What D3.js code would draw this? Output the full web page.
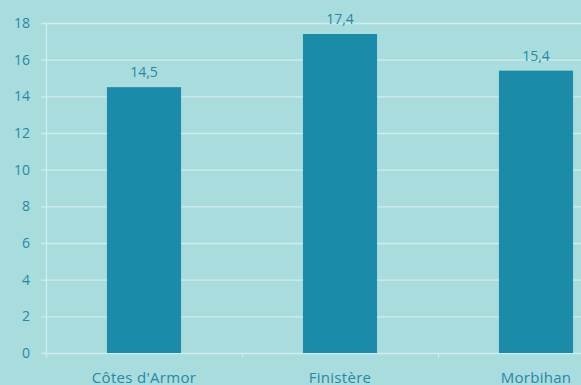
<!DOCTYPE html>
<html><head><meta charset="utf-8">
<script src="https://cdn.jsdelivr.net/npm/d3@7"></script>
<style>
html,body{margin:0;padding:0;background:#a9dcdd;overflow:hidden}
text{font-family:"Open Sans",sans-serif}
</style></head>
<body><svg id="c" width="581" height="385"></svg>
<script>
const categories = ["Côtes d'Armor", "Finistère", "Morbihan"];
const values = [14.5, 17.4, 15.4];
const yTicks = [0, 2, 4, 6, 8, 10, 12, 14, 16, 18];

const svg = d3.select("#c");
const mLeft = 46, mRight = 634, mTop = 23, mBottom = 353;
const x = d3.scaleBand().domain(categories).range([mLeft, mRight]).paddingInner(0.622).paddingOuter(0.311);
const xb = d3.scaleBand().domain(categories).range([mLeft, mRight]);
const y = d3.scaleLinear().domain([0, 18]).range([mBottom, mTop]);
const txt = "#2589a8", grid = "#cdeeee", barCol = "#1a8ba8";

svg.append("rect").attr("width", 581).attr("height", 385).attr("fill", "#a9dcdd");

// gridlines
svg.append("g").selectAll("line").data(yTicks).join("line")
  .attr("x1", mLeft - 5).attr("x2", 581)
  .attr("y1", d => y(d) + 0.5).attr("y2", d => y(d) + 0.5)
  .attr("stroke", grid).attr("stroke-width", 1.3);
// y axis line
svg.append("line").attr("x1", mLeft + 0.5).attr("x2", mLeft + 0.5).attr("y1", mTop).attr("y2", mBottom + 5)
  .attr("stroke", grid).attr("stroke-width", 1.3);
// x ticks at band boundaries
svg.append("g").selectAll("line").data(categories.slice(1)).join("line")
  .attr("x1", d => xb(d) + 0.5).attr("x2", d => xb(d) + 0.5)
  .attr("y1", mBottom).attr("y2", mBottom + 5).attr("stroke", grid);

// y labels
svg.append("g").selectAll("text").data(yTicks).join("text")
  .attr("x", 30).attr("y", d => y(d)).attr("dy", "0.36em")
  .attr("text-anchor", "end").attr("fill", txt).attr("font-size", 14).text(d => d);

// bars
svg.append("g").selectAll("rect").data(values).join("rect")
  .attr("x", (d, i) => x(categories[i])).attr("width", x.bandwidth())
  .attr("y", d => y(d)).attr("height", d => y(0) - y(d)).attr("fill", barCol);

// value labels
svg.append("g").selectAll("text").data(values).join("text")
  .attr("x", (d, i) => x(categories[i]) + x.bandwidth() / 2).attr("y", d => y(d) - 10)
  .attr("text-anchor", "middle").attr("fill", txt).attr("font-size", 14)
  .text(d => d.toString().replace(".", ","));

// category labels
svg.append("g").selectAll("text").data(categories).join("text")
  .attr("x", d => xb(d) + xb.bandwidth() / 2).attr("y", 382.5)
  .attr("text-anchor", "middle").attr("fill", txt).attr("font-size", 15)
  .attr("letter-spacing", 0.3).text(d => d);
</script></body></html>
